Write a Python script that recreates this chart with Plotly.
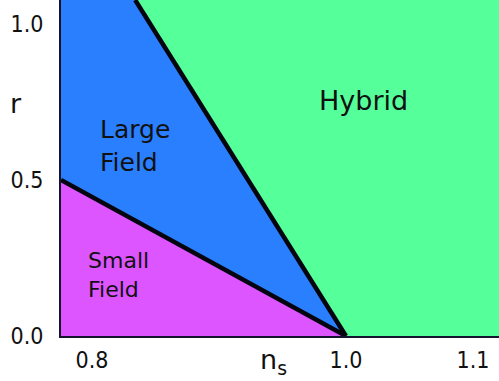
import plotly.graph_objects as go

# axis extent (n_s, r)
ns_range = [0.7756, 1.1205]
r_range = [0.0, 1.077]

# boundary lines
small_line_ns = [0.7756, 1.0]
small_line_r = [0.5, 0.0]
large_line_ns = [0.834, 1.0]
large_line_r = [1.077, 0.0]

# regions
small_ns = [0.7756, 0.7756, 1.0, 0.7756]
small_r = [0.0, 0.5, 0.0, 0.0]
large_ns = [0.7756, 0.7756, 0.834, 1.0, 0.7756]
large_r = [0.5, 1.077, 1.077, 0.0, 0.5]
hybrid_ns = [0.834, 1.1205, 1.1205, 1.0, 0.834]
hybrid_r = [1.077, 1.077, 0.0, 0.0, 1.077]

region_colors = {'small': '#dd55ff', 'large': '#2a7fff', 'hybrid': '#55ff99'}

xtick_vals = [0.8, 1.0, 1.1]
xtick_text = ['0.8', '1.0', '1.1']
ytick_vals = [0.0, 0.5, 1.0]
ytick_text = ['0.0', '0.5', '1.0']

fig = go.Figure()
for xs, ys, key in [(small_ns, small_r, 'small'), (large_ns, large_r, 'large'), (hybrid_ns, hybrid_r, 'hybrid')]:
    fig.add_trace(go.Scatter(x=xs, y=ys, fill='toself', fillcolor=region_colors[key],
                             mode='none', hoverinfo='skip', showlegend=False))

for xs, ys in [(small_line_ns, small_line_r), (large_line_ns, large_line_r)]:
    fig.add_trace(go.Scatter(x=xs, y=ys, mode='lines', line=dict(color='#050510', width=4.5),
                             hoverinfo='skip', showlegend=False))

fig.add_annotation(x=0.805, y=0.61, text='Large<br>Field', showarrow=False, xanchor='left',
                   align='left', font=dict(family='DejaVu Sans', size=25, color='#111111'))
fig.add_annotation(x=0.7953, y=0.196, text='Small<br>Field', showarrow=False, xanchor='left',
                   align='left', font=dict(family='DejaVu Sans', size=22, color='#111111'))
fig.add_annotation(x=1.014, y=0.756, text='Hybrid', showarrow=False,
                   font=dict(family='DejaVu Sans', size=27, color='#111111'))

# axis titles placed like the original drawing
fig.add_annotation(xref='paper', yref='paper', x=-0.121, y=0.745, text='r', showarrow=False,
                   font=dict(family='DejaVu Sans', size=27, color='#111111'))
fig.add_annotation(xref='paper', yref='paper', x=0.485, y=-0.076, yanchor='middle', text='n<sub>s</sub>',
                   showarrow=False, font=dict(family='DejaVu Sans', size=27, color='#111111'))

tick_font = dict(family='DejaVu Sans Condensed, DejaVu Sans', size=23, color='#111111')
fig.update_xaxes(range=ns_range, tickvals=xtick_vals, ticktext=xtick_text, showgrid=False,
                 zeroline=False, showline=True, linecolor='#14142e', linewidth=2,
                 ticks='', tickfont=tick_font, ticklabelstandoff=2)
fig.update_yaxes(range=r_range, tickvals=ytick_vals, ticktext=ytick_text, showgrid=False,
                 zeroline=False, showline=True, linecolor='#14142e', linewidth=2,
                 ticks='', tickfont=tick_font, ticklabelstandoff=11)

fig.update_layout(width=499, height=381, margin=dict(l=61, r=0, t=0, b=45, autoexpand=False),
                  paper_bgcolor='white', plot_bgcolor='white')

# page body has a default margin; drop it so the figure sits at the window corner
fig.write_html("out.html", config={'displayModeBar': False},
               post_script="document.body.style.margin='0';")
